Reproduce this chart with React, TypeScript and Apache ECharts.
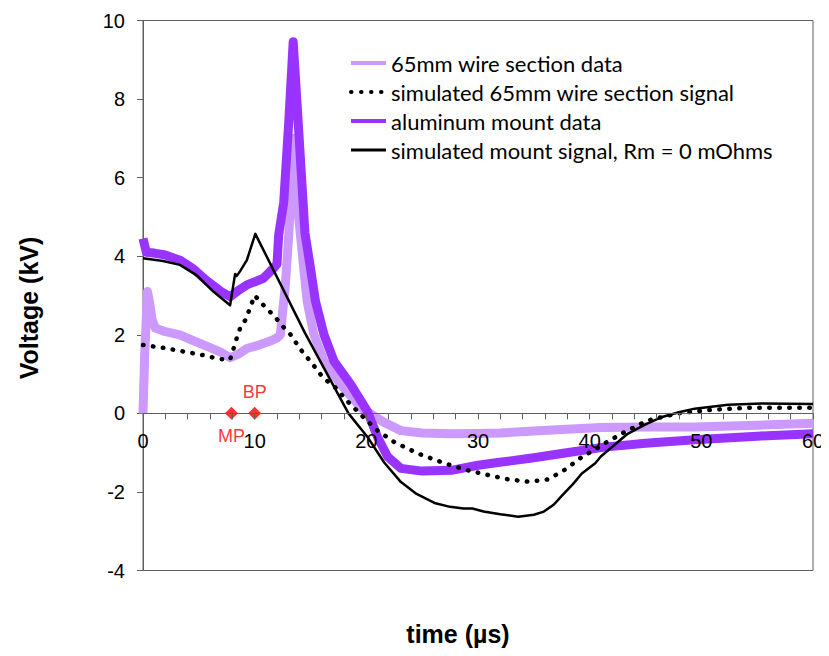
import React, { useEffect, useRef } from "react";
import * as echarts from "echarts";

// 65mm wire section data (light purple)
const wireDataT = [0, 0.15, 0.4, 0.6, 0.8, 1.1, 2, 3.3, 4.5, 5.7, 7, 7.8, 8.5, 9.3, 10.5, 11.4, 12.0, 12.3, 12.75, 13.05, 13.2, 13.5, 13.8, 14.1, 14.4, 14.7, 15.3, 16.2, 17.7, 19.5, 20.7, 21.6, 23.1, 25, 27.6, 30, 32, 35, 37.5, 41, 45, 49.4, 55, 60];
const wireDataV = [0, 1.5, 3.1, 2.8, 2.4, 2.17, 2.08, 2.0, 1.85, 1.71, 1.55, 1.42, 1.5, 1.65, 1.75, 1.84, 1.92, 2.0, 3.27, 4.54, 5.37, 7.0, 5.37, 4.54, 3.69, 2.85, 2.01, 1.33, 0.74, 0.15, -0.07, -0.23, -0.44, -0.5, -0.52, -0.51, -0.5, -0.45, -0.41, -0.36, -0.35, -0.35, -0.3, -0.25];

// simulated 65mm wire section signal (black dotted)
const wireSimT = [0, 1.8, 3.5, 5.1, 6.9, 7.8, 8.1, 8.4, 8.7, 9.2, 9.76, 10.0, 10.7, 11.9, 12.5, 13.2, 14.1, 15.2, 16.2, 17.1, 18.4, 19.6, 21, 22.5, 24.6, 27, 29.1, 30.9, 32.7, 34.5, 36.3, 37.8, 39.3, 40.5, 41.3, 43.1, 45.2, 47.9, 50.9, 54.2, 60];
const wireSimV = [1.74, 1.67, 1.58, 1.5, 1.38, 1.37, 1.64, 1.92, 2.17, 2.39, 2.82, 3.0, 2.78, 2.43, 2.22, 2.01, 1.63, 1.25, 0.88, 0.7, 0.28, -0.06, -0.44, -0.73, -1.02, -1.27, -1.45, -1.57, -1.68, -1.74, -1.68, -1.43, -1.11, -0.92, -0.77, -0.48, -0.18, 0.0, 0.09, 0.14, 0.14];

// aluminum mount data (purple)
const mountDataT = [0, 0.3, 1, 2, 3.3, 4.5, 5.7, 7, 7.8, 8.5, 9.3, 10.8, 11.7, 12.0, 12.15, 12.6, 13.05, 13.45, 13.9, 14.5, 15.0, 15.45, 16.2, 17.1, 18.6, 20.1, 21.0, 21.9, 23.1, 25, 27.6, 30, 32.1, 35, 37.5, 41.3, 45, 49.4, 55, 60];
const mountDataV = [4.45, 4.1, 4.08, 4.03, 3.9, 3.68, 3.38, 3.1, 2.97, 3.12, 3.27, 3.44, 3.7, 3.8, 4.54, 5.37, 7.4, 9.46, 7.4, 4.6, 3.69, 2.85, 2.01, 1.33, 0.74, 0.05, -0.6, -1.1, -1.4, -1.47, -1.45, -1.32, -1.24, -1.13, -1.02, -0.86, -0.76, -0.67, -0.58, -0.52];

// simulated mount signal, Rm = 0 mOhms (black solid)
const mountSimT = [0, 1.8, 3.3, 4.8, 6.3, 7.8, 8.25, 8.4, 8.7, 9.3, 10.06, 14.5, 18.4, 20.1, 21.6, 23.1, 24.5, 26.1, 27.5, 28.7, 29.5, 30.5, 32, 33.6, 35, 35.9, 36.8, 37.5, 38.5, 39.3, 40.5, 41, 43.4, 45, 46.4, 48, 49.4, 52.4, 55.4, 60];
const mountSimV = [3.95, 3.88, 3.78, 3.52, 3.1, 2.75, 3.55, 3.5, 3.62, 3.9, 4.57, 2.05, 0, -0.6, -1.25, -1.75, -2.05, -2.28, -2.38, -2.42, -2.42, -2.5, -2.57, -2.63, -2.58, -2.5, -2.32, -2.1, -1.8, -1.53, -1.27, -1.1, -0.52, -0.28, -0.1, 0.03, 0.12, 0.22, 0.25, 0.24];

// markers
const markerNames = ["MP", "BP"];
const markerT = [7.92, 10.0];
const markerV = [0, 0];

// axes
const xMin = 0;
const xMax = 60;
const yMin = -4;
const yMax = 10;

const seriesNames = [
  "65mm wire section data",
  "simulated 65mm wire section signal",
  "aluminum mount data",
  "simulated mount signal, Rm = 0 mOhms",
];

const zip = (t: number[], v: number[]) => t.map((x, i) => [x, v[i]]);

const GRID_TOP = 20.5;
const GRID_BOTTOM = 85.5;
const H = 656;

export default function App() {
  const ref = useRef<HTMLDivElement>(null);
  useEffect(() => {
    if (!ref.current) return;
    const chart = echarts.init(ref.current, undefined, { renderer: "svg" });
    const axisColor = "#5f5f5f";
    const tickFont = { fontFamily: "Liberation Sans", fontSize: 20, color: "#000" };
    const dotted = { color: "#000", width: 4.5, type: [0.5, 9.5] as any, cap: "round" as const };
    const hideSym = { opacity: 0 };
    const gridH = H - GRID_TOP - GRID_BOTTOM;
    // move the x axis from the grid bottom up to the y = 0 line
    const xAxisOffset = -((0 - yMin) / (yMax - yMin)) * gridH;
    chart.setOption({
      animation: false,
      backgroundColor: "#fff",
      grid: {
        left: 143,
        top: GRID_TOP,
        right: 16,
        bottom: GRID_BOTTOM,
        show: true,
        borderColor: axisColor,
        borderWidth: 1,
        containLabel: false,
      },
      legend: {
        orient: "vertical",
        left: 349,
        top: 52,
        padding: 0,
        itemWidth: 35,
        itemHeight: 14,
        itemGap: 7,
        textStyle: { fontFamily: "Lato", fontSize: 22, color: "#000" },
        data: [
          { name: seriesNames[0], lineStyle: { width: 4 }, itemStyle: hideSym },
          { name: seriesNames[1], lineStyle: { width: 4 }, itemStyle: hideSym },
          { name: seriesNames[2], lineStyle: { width: 4 }, itemStyle: hideSym },
          { name: seriesNames[3], lineStyle: { width: 3 }, itemStyle: hideSym },
        ],
      },
      xAxis: {
        type: "value",
        min: xMin,
        max: xMax,
        interval: 2,
        position: "bottom",
        offset: xAxisOffset,
        z: 20,
        axisLine: { onZero: false, lineStyle: { color: axisColor, width: 1 } },
        axisTick: { show: true, inside: false, length: 6, lineStyle: { color: axisColor } },
        axisLabel: {
          ...tickFont,
          margin: 18,
          formatter: (v: number) => (v % 10 === 0 ? String(v) : ""),
        },
        splitLine: { show: false },
      },
      yAxis: {
        type: "value",
        min: yMin,
        max: yMax,
        interval: 2,
        axisLine: { show: true, onZero: false, lineStyle: { color: axisColor, width: 1 } },
        axisTick: { show: true, inside: false, length: 6, lineStyle: { color: axisColor } },
        axisLabel: { ...tickFont, margin: 18 },
        splitLine: { show: false },
      },
      graphic: [
        {
          type: "text",
          x: 29,
          y: 308,
          rotation: Math.PI / 2,
          style: {
            text: "Voltage (kV)",
            x: 0,
            y: 0,
            align: "center",
            verticalAlign: "middle",
            font: 'bold 25px "Liberation Sans"',
            fill: "#000",
          },
        },
        {
          type: "text",
          x: 458,
          y: 634,
          style: {
            text: "time (\u00b5s)",
            x: 0,
            y: 0,
            align: "center",
            verticalAlign: "middle",
            font: 'bold 25px "Liberation Sans"',
            fill: "#000",
          },
        },
      ],
      series: [
        {
          name: seriesNames[0],
          type: "line",
          data: zip(wireDataT, wireDataV),
          symbol: "none",
          lineStyle: { color: "#CC99FF", width: 9, join: "round" },
          itemStyle: { color: "#CC99FF" },
          z: 2,
        },
        {
          name: seriesNames[2],
          type: "line",
          data: zip(mountDataT, mountDataV),
          symbol: "none",
          lineStyle: { color: "#9933FF", width: 9, join: "round" },
          itemStyle: { color: "#9933FF" },
          z: 3,
        },
        {
          name: seriesNames[1],
          type: "line",
          data: zip(wireSimT, wireSimV),
          symbol: "none",
          lineStyle: dotted,
          itemStyle: { color: "#000" },
          z: 4,
        },
        {
          name: seriesNames[3],
          type: "line",
          data: zip(mountSimT, mountSimV),
          symbol: "none",
          lineStyle: { color: "#000", width: 2.5, join: "round" },
          itemStyle: { color: "#000" },
          z: 5,
        },
        {
          name: "markers",
          type: "scatter",
          symbol: "diamond",
          symbolSize: 13,
          itemStyle: { color: "#FF0000" },
          z: 6,
          data: markerNames.map((n, i) => ({
            name: n,
            value: [markerT[i], markerV[i]],
            label: {
              show: true,
              formatter: "{b}",
              position: i === 0 ? "bottom" : "top",
              distance: i === 0 ? 7 : 6,
              color: "#FF0000",
              fontFamily: "Liberation Sans",
              fontSize: 18,
            },
          })),
        },
      ],
    });
    return () => chart.dispose();
  }, []);
  return <div ref={ref} style={{ width: 829, height: 656, margin: -8 }} />;
}
